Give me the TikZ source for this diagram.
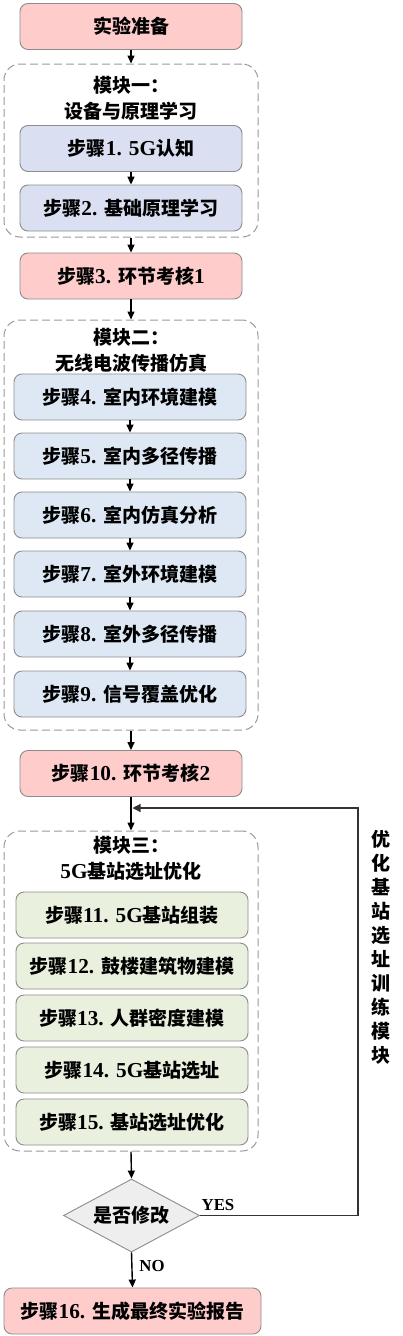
\documentclass[tikz,border=0pt]{standalone}
\usepackage{fontspec}
\setmainfont{Noto Sans CJK SC}
\newfontfamily\lat[Scale=1.12]{Liberation Serif}
\usetikzlibrary{shapes.geometric,arrows.meta}
\definecolor{pinkfill}{HTML}{FFCCCC}
\definecolor{lavfill}{HTML}{DAE0F2}
\definecolor{bluefill}{HTML}{DEE8F5}
\definecolor{greenfill}{HTML}{E9F0DE}
\definecolor{diafill}{HTML}{EEEEEE}
\definecolor{bordergray}{HTML}{8C8C8C}
\definecolor{dashgray}{HTML}{999999}
\definecolor{fbgray}{HTML}{333333}
\tikzset{
  base/.style={draw=bordergray, line width=0.9pt, rounded corners=8pt, inner sep=0pt,
    font=\fontsize{19}{22}\selectfont\bfseries, text=black},
  pinkbox/.style={base, fill=pinkfill, minimum width=222pt, minimum height=46pt},
  lavbox/.style={base, fill=lavfill, minimum width=222pt, minimum height=46pt},
  bluebox/.style={base, fill=bluefill, minimum width=232pt, minimum height=46pt},
  greenbox/.style={base, fill=greenfill, minimum width=232pt, minimum height=46pt},
  modbox/.style={draw=dashgray, line width=1pt, dash pattern=on 8pt off 4pt, rounded corners=16pt,
    minimum width=254pt, inner sep=0pt},
  modtitle/.style={font=\fontsize{19}{26}\selectfont\bfseries, align=center, inner sep=0pt},
  arr/.style={line width=1.4pt, -{Triangle[length=8pt,width=7pt]}},
  fb/.style={draw=fbgray, line width=1.2pt, -{Triangle[length=8pt,width=8pt]}},
  lbl/.style={font=\lat\fontsize{15}{18}\selectfont\bfseries, inner sep=0pt},
}
\begin{document}
\begin{tikzpicture}[x=1pt,y=-1pt]
\useasboundingbox (0,0) rectangle (402,1336);
% top
\node[pinkbox] (prep) at (131,26.5) {实验准备};
% module 1
\node[modbox, minimum height=173pt] (m1) at (131,150.5) {};
\node[modtitle] (m1t) at (131,98) {模块一：\\设备与原理学习};
\node[lavbox] (s1) at (131,148.5) {步骤{\lat 1. 5G}认知};
\node[lavbox] (s2) at (131,208) {步骤{\lat 2. }基础原理学习};
\node[pinkbox] (s3) at (131,276) {步骤{\lat 3. }环节考核{\lat 1}};
% module 2
\node[modbox, minimum height=410pt] (m2) at (131,525) {};
\node[modtitle] (m2t) at (131,350) {模块二：\\无线电波传播仿真};
\node[bluebox] (s4) at (130,397) {步骤{\lat 4. }室内环境建模};
\node[bluebox] (s5) at (130,456) {步骤{\lat 5. }室内多径传播};
\node[bluebox] (s6) at (130,515) {步骤{\lat 6. }室内仿真分析};
\node[bluebox] (s7) at (130,574) {步骤{\lat 7. }室外环境建模};
\node[bluebox] (s8) at (130,634) {步骤{\lat 8. }室外多径传播};
\node[bluebox] (s9) at (130,694) {步骤{\lat 9. }信号覆盖优化};
\node[pinkbox] (s10) at (131,773.5) {步骤{\lat 10. }环节考核{\lat 2}};
% module 3
\node[modbox, minimum height=320pt] (m3) at (131,991) {};
\node[modtitle] (m3t) at (131,858.5) {模块三：\\{\lat 5G}基站选址优化};
\node[greenbox] (s11) at (132,915) {步骤{\lat 11. 5G}基站组装};
\node[greenbox] (s12) at (132,966) {步骤{\lat 12. }鼓楼建筑物建模};
\node[greenbox] (s13) at (132,1018) {步骤{\lat 13. }人群密度建模};
\node[greenbox] (s14) at (132,1070) {步骤{\lat 14. 5G}基站选址};
\node[greenbox] (s15) at (132,1122) {步骤{\lat 15. }基站选址优化};
% decision
\node[diamond, draw=bordergray, line width=0.9pt, fill=diafill, minimum width=136pt, minimum height=73pt,
  aspect=1.86, inner sep=0pt, font=\fontsize{19}{22}\selectfont\bfseries] (dia) at (131.5,1215.5) {是否修改};
\node[pinkbox, minimum width=257pt] (final) at (132.5,1311) {步骤{\lat 16. }生成最终实验报告};
% side label
\node[font=\fontsize{19}{24}\selectfont\bfseries, align=center, inner sep=0pt] (side) at (381,947)
  {优\\化\\基\\站\\选\\址\\训\\练\\模\\块};
\node[lbl] (yes) at (218,1205) {YES};
\node[lbl] (no) at (152,1266) {NO};
% connectors
\draw[arr] (prep.south) -- (m1.north);
\draw[arr] (s1.south) -- (s2.north);
\draw[arr] (m1.south) -- (s3.north);
\draw[arr] (s3.south) -- (m2.north);
\draw[arr] (s4.south) -- (s5.north);
\draw[arr] (s5.south) -- (s6.north);
\draw[arr] (s6.south) -- (s7.north);
\draw[arr] (s7.south) -- (s8.north);
\draw[arr] (s8.south) -- (s9.north);
\draw[arr] (m2.south) -- (s10.north);
\draw[arr] (s10.south) -- (m3.north);
\draw[arr] (m3.south) -- (dia.north);
\draw[arr] (dia.south) -- (final.north);
\coordinate (fbTop) at (358,808);
\coordinate (fbEnd) at (132.5,808);
\draw[fb] (dia.east) -| (fbTop) -- (fbEnd);
\end{tikzpicture}
\end{document}
